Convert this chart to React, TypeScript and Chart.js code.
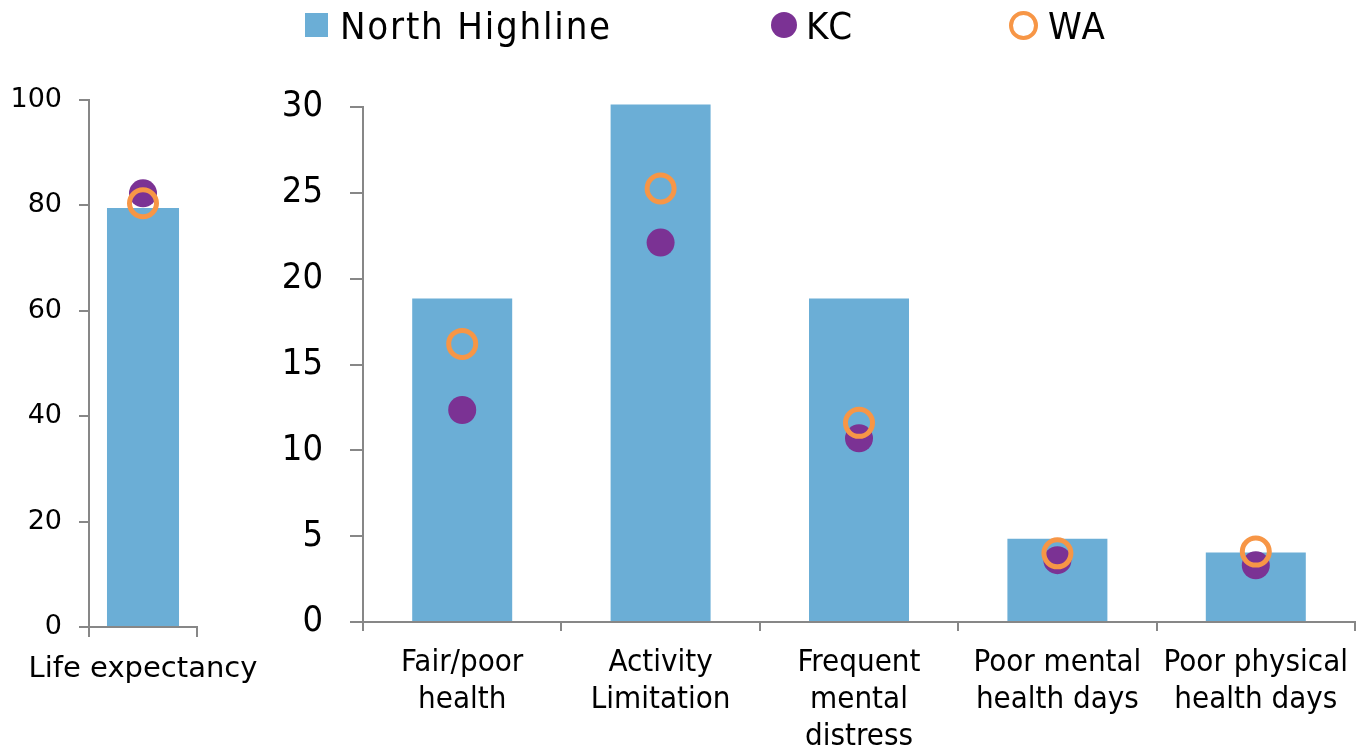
import React, { useEffect, useRef } from "react";
import { Chart, registerables } from "chart.js";
Chart.register(...registerables);

// ---- data ----
const lifeCategories = ["Life expectancy"];
const lifeNorthHighline = [79.5];
const lifeKC = [82.3];
const lifeWA = [80.4];
const lifeTickMax = 100;
const lifeTickStep = 20;

const categories = [
  ["Fair/poor", "health"],
  ["Activity", "Limitation"],
  ["Frequent", "mental", "distress"],
  ["Poor mental", "health days"],
  ["Poor physical", "health days"],
];
const northHighline = [18.85, 30.15, 18.85, 4.85, 4.05];
const kcValues = [12.35, 22.1, 10.7, 3.6, 3.3];
const waValues = [16.2, 25.25, 11.6, 4.0, 4.1];
const rightTickMax = 30;
const rightTickStep = 5;

const seriesNames = ["North Highline", "KC", "WA"];

// ---- styles ----
const BLUE = "#6BAED6";
const PURPLE = "#7B3294";
const ORANGE = "#F79646";
const AXIS = "#878787";
const COND = "'DejaVu Sans Condensed', 'Liberation Sans Narrow', sans-serif";
const WIDE = "'DejaVu Sans', Verdana, sans-serif";

function makeConfig(
  labels: any[],
  bars: number[],
  kc: number[],
  wa: number[],
  max: number,
  step: number,
  opts: {
    yWidth: number;
    xHeight: number;
    padTop: number;
    padRight: number;
    barPct: number;
    yFont: any;
    xFont: any;
    yTickLen: number;
    yPad: number;
    xTickLen: number;
    xPad: number;
  }
): any {
  return {
    type: "bar",
    data: {
      labels,
      datasets: [
        {
          type: "bar",
          label: seriesNames[0],
          data: bars,
          backgroundColor: BLUE,
          borderWidth: 0,
          barPercentage: opts.barPct,
          categoryPercentage: 1,
          order: 3,
          clip: false,
        },
        {
          type: "line",
          label: seriesNames[1],
          data: kc,
          showLine: false,
          pointStyle: "circle",
          pointRadius: 14,
          pointBackgroundColor: PURPLE,
          pointBorderWidth: 0,
          pointBorderColor: PURPLE,
          order: 2,
          clip: false,
        },
        {
          type: "line",
          label: seriesNames[2],
          data: wa,
          showLine: false,
          pointStyle: "circle",
          pointRadius: 13.5,
          pointBackgroundColor: "rgba(0,0,0,0)",
          pointBorderColor: ORANGE,
          pointBorderWidth: 5,
          order: 1,
          clip: false,
        },
      ],
    },
    options: {
      responsive: false,
      animation: false,
      events: [],
      layout: {
        autoPadding: false,
        padding: { top: opts.padTop, right: opts.padRight, left: 0, bottom: 0 },
      },
      plugins: { legend: { display: false }, tooltip: { enabled: false } },
      scales: {
        x: {
          type: "category",
          offset: true,
          afterFit: (s: any) => {
            s.height = opts.xHeight;
            s.paddingLeft = 0;
            s.paddingRight = 0;
          },
          grid: {
            offset: true,
            drawOnChartArea: false,
            drawTicks: true,
            tickLength: opts.xTickLen,
            color: AXIS,
            lineWidth: 2,
          },
          border: { display: true, color: AXIS, width: 2 },
          ticks: {
            color: "#000",
            font: opts.xFont,
            maxRotation: 0,
            minRotation: 0,
            autoSkip: false,
            padding: opts.xPad,
          },
        },
        y: {
          min: 0,
          max,
          afterFit: (s: any) => {
            s.width = opts.yWidth;
            s.paddingTop = 0;
            s.paddingBottom = 0;
          },
          grid: {
            drawOnChartArea: false,
            drawTicks: true,
            tickLength: opts.yTickLen,
            color: AXIS,
            lineWidth: 2,
          },
          border: { display: true, color: AXIS, width: 2 },
          ticks: {
            stepSize: step,
            color: "#000",
            font: opts.yFont,
            padding: opts.yPad,
          },
        },
      },
    },
  };
}

export default function App() {
  const leftRef = useRef<HTMLCanvasElement>(null);
  const rightRef = useRef<HTMLCanvasElement>(null);

  useEffect(() => {
    const left = new Chart(
      leftRef.current as HTMLCanvasElement,
      makeConfig(lifeCategories, lifeNorthHighline, lifeKC, lifeWA, lifeTickMax, lifeTickStep, {
        yWidth: 89,
        xHeight: 124,
        padTop: 100,
        padRight: 103,
        barPct: 0.667,
        yFont: { family: WIDE, size: 27 },
        xFont: { family: WIDE, size: 29, lineHeight: 1.2 },
        yTickLen: 10,
        yPad: 17,
        xTickLen: 10,
        xPad: 15,
      })
    );
    const right = new Chart(
      rightRef.current as HTMLCanvasElement,
      makeConfig(categories, northHighline, kcValues, waValues, rightTickMax, rightTickStep, {
        yWidth: 103,
        xHeight: 129,
        padTop: 107,
        padRight: 12,
        barPct: 0.504,
        yFont: { family: COND, size: 36 },
        xFont: { family: COND, size: 31, lineHeight: 1.2 },
        yTickLen: 13,
        yPad: 27,
        xTickLen: 9,
        xPad: 13,
      })
    );
    return () => {
      left.destroy();
      right.destroy();
    };
  }, []);

  const legendText: React.CSSProperties = {
    position: "absolute",
    top: 7,
    fontFamily: COND,
    fontSize: 38,
    lineHeight: "38px",
    letterSpacing: "1.8px",
    color: "#000",
    whiteSpace: "nowrap",
  };

  return (
    <div
      style={{
        position: "absolute",
        left: 0,
        top: 0,
        width: 1367,
        height: 751,
        background: "#fff",
        overflow: "hidden",
      }}
    >
      <canvas
        ref={leftRef}
        width={300}
        height={751}
        style={{ position: "absolute", left: 0, top: 0, width: 300, height: 751 }}
      />
      <canvas
        ref={rightRef}
        width={1107}
        height={751}
        style={{ position: "absolute", left: 260, top: 0, width: 1107, height: 751 }}
      />
      <div style={{ position: "absolute", left: 305, top: 13, width: 23, height: 24, background: BLUE }} />
      <div style={{ ...legendText, left: 340 }}>{seriesNames[0]}</div>
      <div
        style={{
          position: "absolute",
          left: 771,
          top: 12,
          width: 26,
          height: 26,
          borderRadius: "50%",
          background: PURPLE,
        }}
      />
      <div style={{ ...legendText, left: 806 }}>{seriesNames[1]}</div>
      <div
        style={{
          position: "absolute",
          left: 1008.5,
          top: 10.5,
          width: 29,
          height: 29,
          boxSizing: "border-box",
          borderRadius: "50%",
          border: `4.5px solid ${ORANGE}`,
        }}
      />
      <div style={{ ...legendText, left: 1048 }}>{seriesNames[2]}</div>
    </div>
  );
}
